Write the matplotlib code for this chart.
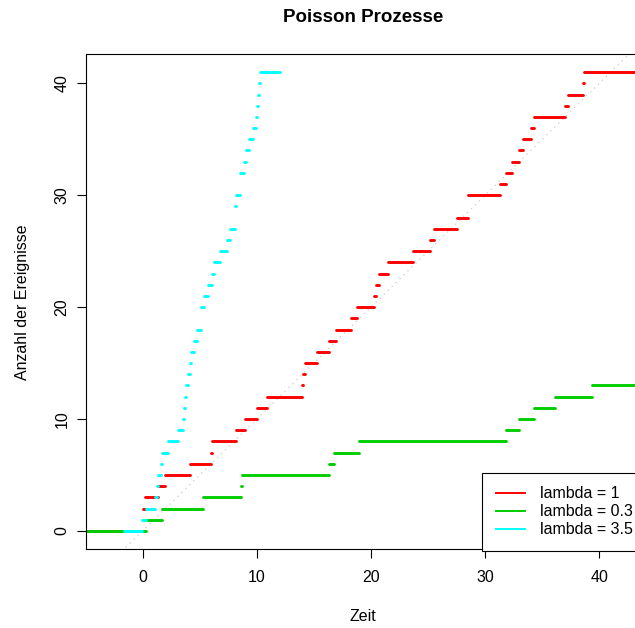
import numpy as np
import matplotlib
matplotlib.use("Agg")
import matplotlib.pyplot as plt
from matplotlib.lines import Line2D

plt.rcParams['font.family'] = ['Liberation Sans', 'DejaVu Sans']

# jump times of the three counting processes (value k holds from t_k to t_k+1)
red_times = [0.02, 0.07, 0.2, 1.40, 1.93, 4.18, 5.96, 6.10, 8.17, 8.94,
             10.0, 10.93, 13.99, 14.05, 14.24, 15.25, 16.34, 16.92, 18.23, 18.8,
             20.25, 20.46, 20.7, 21.5, 23.67, 25.2, 25.53, 27.5, 28.47, 28.52,
             31.27, 31.86, 32.32, 32.99, 33.32, 34.0, 34.28, 36.99, 37.27, 38.6,
             38.67]
green_times = [0.3, 1.7, 5.3, 8.62, 8.71, 16.36, 16.77, 18.97, 31.83, 32.97,
               34.3, 36.14, 39.38]
cyan_times = [-0.06, 0.3, 1.1, 1.3, 1.36, 1.63, 1.72, 2.2, 3.12, 3.53,
              3.6, 3.68, 3.82, 3.97, 4.17, 4.22, 4.5, 4.74, 5.08, 5.14,
              5.42, 5.7, 6.05, 6.27, 6.75, 7.39, 7.66, 8.07, 8.12, 8.18,
              8.5, 8.55, 8.92, 9.1, 9.32, 9.68, 9.91, 10.0, 10.1, 10.2,
              10.33]

# horizontal range covered by each step function
red_range = (-6.2, 45.0)
green_range = (-8.0, 47.0)
cyan_range = (-1.62, 12.04)

labels = ["lambda = 1", "lambda = 0.3", "lambda = 3.5"]
colors = ["#FF0000", "#00CD00", "#00FFFF"]

W, H = 635, 628
fig = plt.figure(figsize=(W / 100, H / 100), dpi=100)

# plot box in pixels: left 86.2, right 639.3 (past the image edge), top 53.7, bottom 549.3
ax = fig.add_axes([86.2 / W, 1 - 549.3 / H, (639.3 - 86.2) / W, (549.3 - 53.7) / H])
ax.set_xlim(-4.93, 43.5)
ax.set_ylim(-1.64, 42.65)

# dotted reference line y = x
d = np.array([-10, 60])
ax.plot(d, d, color="#D3D3D3", lw=1, dashes=(1, 3), zorder=1)


def draw_steps(times, xr, col):
    t = np.concatenate([[xr[0]], times, [xr[1]]])
    y = np.arange(len(t) - 1)
    ax.hlines(y, t[:-1], t[1:], colors=col, lw=2.1, capstyle='round', zorder=2)


draw_steps(red_times, red_range, colors[0])
draw_steps(green_times, green_range, colors[1])
draw_steps(cyan_times, cyan_range, colors[2])

ax.set_xticks([0, 10, 20, 30, 40])
ax.set_yticks([0, 10, 20, 30, 40])
for s in ax.spines.values():
    s.set_linewidth(0.8)
    s.set_color("black")
ax.tick_params(direction='out', length=6.2, width=0.8, labelsize=11.5, color="black")
ax.tick_params(axis='x', pad=8.8)
ax.tick_params(axis='y', pad=6, labelrotation=90)
for lab in ax.get_yticklabels():
    lab.set_va('center')

fig.text(362.7 / W, 1 - 21.7 / H, "Poisson Prozesse", ha='center', va='baseline',
         fontsize=13.5, fontweight='bold')
fig.text(362.7 / W, 1 - 616.7 / H, "Zeit", ha='center', va='center', fontsize=11.5)
fig.text(23 / W, 1 - 301.7 / H, "Anzahl der Ereignisse", ha='center', va='center',
         rotation=90, fontsize=11.5)

handles = [Line2D([], [], color=c, lw=1.4) for c in colors]
leg = ax.legend(handles, labels, loc='upper left', bbox_to_anchor=(482 / W, 1 - 472.7 / H),
                bbox_transform=fig.transFigure, borderaxespad=0, fontsize=11.5,
                borderpad=0.85, handlelength=1.85, handletextpad=0.95, labelspacing=0.19,
                fancybox=False, framealpha=1, edgecolor="black")
leg.get_frame().set_linewidth(0.8)

fig.savefig("out.png", dpi=100)
